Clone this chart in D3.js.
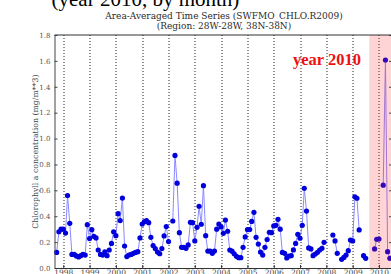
<!DOCTYPE html>
<html>
<head>
<meta charset="utf-8">
<script src="https://cdn.jsdelivr.net/npm/d3@7"></script>
<style>
  body { margin: 0; background: #fff; }
  svg { display: block; }
</style>
</head>
<body>
<svg id="drawing_region"></svg>
<script>
// monthly area-averaged chlorophyll, first value is Oct 1997, null = no data
const first_month = '1997-10-01';
const chl_values = [
  0.12, 0.28, 0.30,                                                      // 1997 Oct-Dec
  0.30, 0.27, 0.56, 0.345, 0.105, 0.105, 0.093, 0.085, 0.095, 0.105, 0.10, 0.335,   // 1998
  0.227, 0.296, 0.245, 0.232, 0.139, 0.105, 0.10, 0.124, 0.095, 0.139, 0.19, 0.28,  // 1999
  0.25, 0.42, 0.366, 0.54, 0.17, 0.088, 0.10, 0.105, 0.113, 0.12, 0.126, 0.232,     // 2000
  0.34, 0.358, 0.366, 0.35, 0.237, 0.174, 0.15, 0.123, 0.11, 0.15, 0.248, 0.32,     // 2001
  0.204, null, 0.363, 0.87, 0.655, 0.273, 0.16, 0.16, 0.152, 0.178, 0.353, 0.35,    // 2002
  0.209, 0.314, 0.477, 0.338, 0.636, 0.25, 0.131, 0.131, 0.113, 0.131, 0.30, 0.34,  // 2003
  0.317, 0.268, 0.37, 0.284, 0.139, 0.13, 0.11, 0.09, 0.08, 0.08, 0.16, 0.24,       // 2004
  0.297, 0.297, 0.36, 0.43, 0.237, 0.185, 0.123, 0.10, 0.16, 0.22, 0.276, 0.273,    // 2005
  0.325, 0.33, 0.376, 0.30, 0.12, 0.113, 0.078, 0.092, 0.095, 0.14, 0.19, 0.26,     // 2006
  0.23, 0.33, 0.616, 0.44, 0.155, 0.147, 0.095, 0.108, 0.121, 0.139, 0.152, 0.198,  // 2007
  null, null, null, 0.255, 0.209, 0.113, null, 0.067, 0.082, 0.10, 0.134, 0.216,    // 2008
  0.209, 0.55, 0.539, 0.294, null, 0.095, 0.075, null, null, null, 0.147, 0.222,    // 2009
  0.224, null, 0.64, 1.607, 0.126, 0.075                                            // 2010
];
const year_ticks = [1998, 1999, 2000, 2001, 2002, 2003, 2004, 2005, 2006, 2007, 2008, 2009, 2010];
const y_ticks = [0.0, 0.2, 0.4, 0.6, 0.8, 1.0, 1.2, 1.4, 1.6, 1.8];
const x_domain = ['1997-09-01', '2010-07-01'];
const highlight = ['2009-08-20', '2010-12-31'];

const title_lines = ['Area-Averaged Time Series (SWFMO_CHLO.R2009)', '(Region: 28W-28W, 38N-38N)'];
const top_caption = '(year 2010, by month)';
const y_label = 'Chlorophyll a concentration  (mg/m**3)';
const highlight_label = 'year 2010';

const parse = d3.timeParse('%Y-%m-%d');
const data = chl_values.map( (v, i) => ({
  date: d3.timeMonth.offset( parse(first_month), i ),
  value: v
}));

let config = {
  parent: '#drawing_region',
  width: 391,
  height: 274,
  margin: {top:35, right:-1, bottom:6, left:54.5}
};

const svg = d3.select( config.parent )
  .attr('width', config.width)
  .attr('height', config.height);

const chart_width = config.width - config.margin.left - config.margin.right;
const chart_height = config.height - config.margin.top - config.margin.bottom;

const chart = svg.append('g')
  .attr('transform', `translate(${config.margin.left}, ${config.margin.top})`);

const x_scale = d3.scaleTime()
  .domain( x_domain.map(parse) )
  .range( [0, chart_width] );

const y_scale = d3.scaleLinear()
  .domain( [0, 1.8] )
  .range( [chart_height, 0] );

const serif = 'DejaVu Serif';

// year grid lines
chart.append('g')
  .selectAll('line')
  .data(year_ticks)
  .join('line')
  .attr('x1', d => Math.round(x_scale(new Date(d, 0, 1))) + 0.5)
  .attr('x2', d => Math.round(x_scale(new Date(d, 0, 1))) + 0.5)
  .attr('y1', 0)
  .attr('y2', chart_height)
  .attr('stroke', '#222')
  .attr('stroke-width', 1)
  .attr('stroke-dasharray', '1,2');

// series
const line = d3.line()
  .defined( d => d.value !== null )
  .x( d => x_scale(d.date) )
  .y( d => y_scale(d.value) );

chart.append('path')
  .attr('d', line(data))
  .attr('fill', 'none')
  .attr('stroke', '#8a8aff')
  .attr('stroke-width', 1);

chart.selectAll('circle')
  .data(data.filter( d => d.value !== null ))
  .join('circle')
  .attr('cx', d => x_scale(d.date))
  .attr('cy', d => y_scale(d.value))
  .attr('r', 2.6)
  .attr('fill', '#0000dd');

// 2010 highlight band (drawn on top, translucent)
chart.append('rect')
  .attr('x', x_scale(parse(highlight[0])))
  .attr('y', 0)
  .attr('width', x_scale(parse(highlight[1])) - x_scale(parse(highlight[0])))
  .attr('height', chart_height)
  .attr('fill', 'rgba(255,40,40,0.2)');

// axes
const y_axis = d3.axisLeft( y_scale )
  .tickValues(y_ticks)
  .tickFormat(d3.format('.1f'))
  .tickSizeInner(-3).tickSizeOuter(0).tickPadding(4);

const yaxis_group = chart.append('g').call(y_axis);
yaxis_group.select('.domain').attr('stroke', '#444');
yaxis_group.selectAll('.tick line').attr('stroke', '#444');
yaxis_group.selectAll('text')
  .attr('font-family', serif)
  .attr('font-size', 7)
  .attr('fill', '#555');

const y_axis_right = d3.axisRight( y_scale )
  .tickValues(y_ticks)
  .tickFormat('')
  .tickSizeInner(-3).tickSizeOuter(0);

chart.append('g')
  .attr('transform', `translate(${chart_width}, 0)`)
  .call(y_axis_right)
  .selectAll('line, path').attr('stroke', '#444');

const x_axis = d3.axisBottom( x_scale )
  .tickValues(year_ticks.map( d => new Date(d, 0, 1) ))
  .tickFormat(d3.timeFormat('%Y'))
  .tickSizeInner(-3).tickSizeOuter(0).tickPadding(2);

const xaxis_group = chart.append('g')
  .attr('transform', `translate(0, ${chart_height})`)
  .call(x_axis);
xaxis_group.select('.domain').attr('stroke', '#333');
xaxis_group.selectAll('.tick line').attr('stroke', '#333');
xaxis_group.selectAll('text')
  .attr('font-family', serif)
  .attr('font-size', 7.5)
  .attr('fill', '#444');

// top frame line
chart.append('line')
  .attr('x1', 0).attr('x2', chart_width)
  .attr('y1', 0).attr('y2', 0)
  .attr('stroke', '#333');

// titles
svg.append('text')
  .attr('x', 51.5)
  .attr('y', 6)
  .attr('font-family', 'Liberation Serif')
  .attr('font-size', 21)
  .attr('fill', '#000')
  .text(top_caption);

svg.selectAll('.title')
  .data(title_lines)
  .join('text')
  .attr('class', 'title')
  .attr('x', 224)
  .attr('y', (d, i) => 18.5 + i * 10.5)
  .attr('text-anchor', 'middle')
  .attr('font-family', serif)
  .attr('font-size', 9)
  .attr('fill', '#2a2a2a')
  .text(d => d);

svg.append('text')
  .attr('transform', `translate(37.5, ${config.margin.top + chart_height / 2}) rotate(-90)`)
  .attr('text-anchor', 'middle')
  .attr('font-family', serif)
  .attr('font-size', 7.8)
  .attr('fill', '#444')
  .text(y_label);

svg.append('text')
  .attr('x', 293)
  .attr('y', 65)
  .attr('font-family', 'Liberation Serif')
  .attr('font-weight', 'bold')
  .attr('font-size', 16.5)
  .attr('fill', '#ee1111')
  .text(highlight_label);
</script>
</body>
</html>
